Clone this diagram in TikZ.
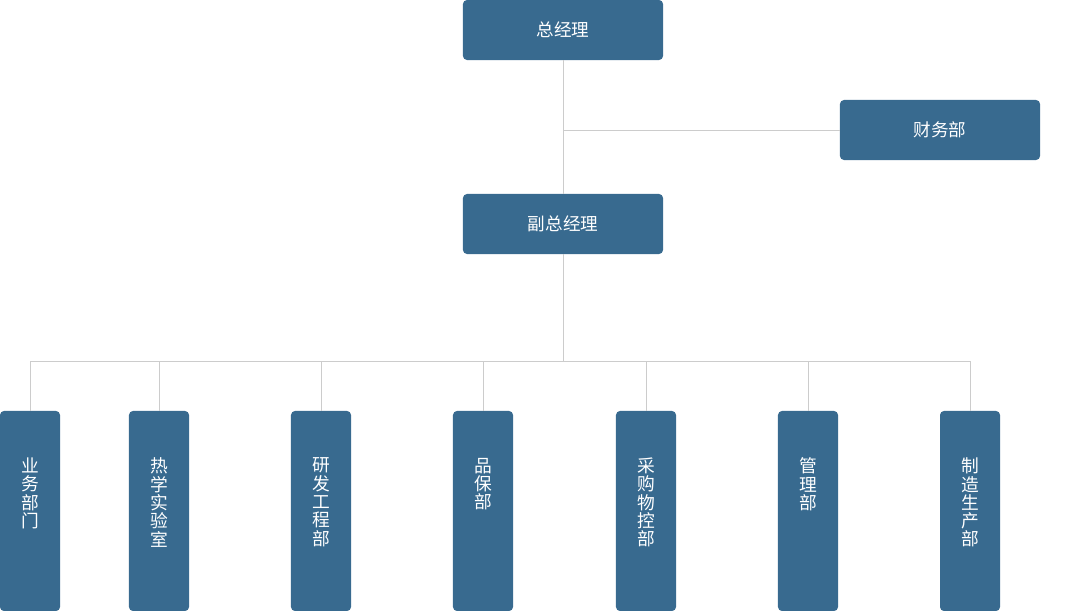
\documentclass[tikz,border=0pt]{standalone}
\usepackage{fontspec}
\newfontfamily\cjk{Noto Sans CJK SC}
\usepackage{xcolor}
\usepackage{tikz}
\usetikzlibrary{
  arrows.meta,
  positioning,
  calc
}
\definecolor{boxblue}{HTML}{386A8F}
\definecolor{linegray}{HTML}{CCCCCC}
% vertical stacked label for the narrow boxes
\newcommand{\vlabel}[1]{\parbox[c][2.65cm][t]{1.2em}{\centering #1}}

\begin{document}
\begin{tikzpicture}[
      x=0.025cm, y=-0.025cm,
      head/.style={fill=boxblue, rounded corners=0.1cm, text=white,
                   minimum width=5cm, minimum height=1.5cm, inner sep=0pt,
                   font=\cjk\fontsize{12.5}{13}\selectfont},
      dept/.style={fill=boxblue, rounded corners=0.1cm, text=white,
                   minimum width=1.5cm, minimum height=5cm, inner sep=0pt,
                   font=\cjk\fontsize{12.6}{13}\selectfont},
      link/.style={draw=linegray, line width=0.6pt}
  ]
      \useasboundingbox (0,0) rectangle (1080,611);

      % Leitung oben
      \node[head] (zjl) at (563,30) {总经理};
      \node[head] (cwb) at (940,130) {财务部};
      \node[head] (fzjl) at (563,224) {副总经理};

      % Abteilungen
      \node[dept] (d1) at (30,511) {\vlabel{业\\务\\部\\门}};
      \node[dept] (d2) at (159,511) {\vlabel{热\\学\\实\\验\\室}};
      \node[dept] (d3) at (321,511) {\vlabel{研\\发\\工\\程\\部}};
      \node[dept] (d4) at (483,511) {\vlabel{品\\保\\部}};
      \node[dept] (d5) at (646,511) {\vlabel{采\\购\\物\\控\\部}};
      \node[dept] (d6) at (808,511) {\vlabel{管\\理\\部}};
      \node[dept] (d7) at (970,511) {\vlabel{制\\造\\生\\产\\部}};

      \coordinate (tap) at (zjl.south |- cwb.west);
      \coordinate (bus) at (563,361);

      % Verbindungen
      \draw[link] (zjl.south) -- (fzjl.north);
      \draw[link] (tap) -- (cwb.west);
      \draw[link] (fzjl.south) -- (bus);
      \draw[link] (d1.north |- bus) -- (d7.north |- bus);
      \foreach \d in {d1,d2,d3,d4,d5,d6,d7}
          \draw[link] (\d.north) -- (\d.north |- bus);
  \end{tikzpicture}
\end{document}
